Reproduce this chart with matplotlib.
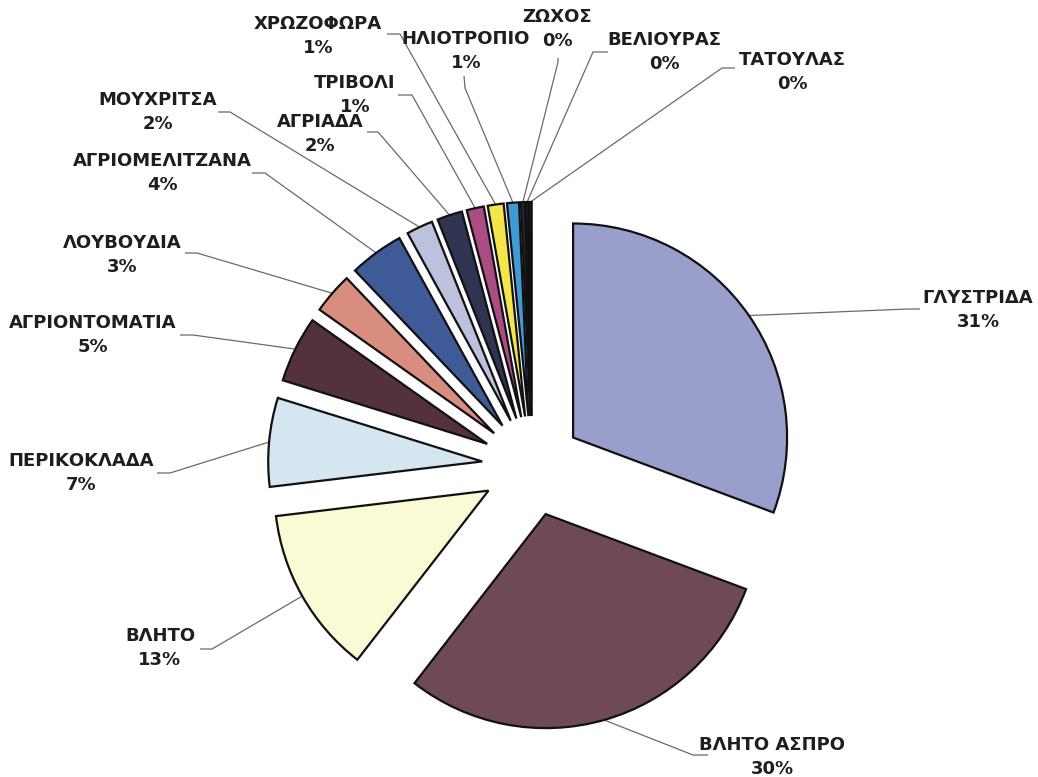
import matplotlib.pyplot as plt
import numpy as np

plt.rcParams['font.family'] = ['DejaVu Sans']

names = ['ΓΛΥΣΤΡΙΔΑ', 'ΒΛΗΤΟ ΑΣΠΡΟ', 'ΒΛΗΤΟ', 'ΠΕΡΙΚΟΚΛΑΔΑ', 'ΑΓΡΙΟΝΤΟΜΑΤΙΑ',
         'ΛΟΥΒΟΥΔΙΑ', 'ΑΓΡΙΟΜΕΛΙΤΖΑΝΑ', 'ΜΟΥΧΡΙΤΣΑ', 'ΑΓΡΙΑΔΑ', 'ΤΡΙΒΟΛΙ',
         'ΧΡΩΖΟΦΩΡΑ', 'ΗΛΙΟΤΡΟΠΙΟ', 'ΖΩΧΟΣ', 'ΒΕΛΙΟΥΡΑΣ', 'ΤΑΤΟΥΛΑΣ']
shares = [30.7, 29.8, 12.6, 6.7, 5.0, 3.1, 4.1, 2.0, 1.9, 1.3, 1.2, 0.9, 0.3, 0.2, 0.2]
colors = ['#9a9ecb', '#6e4a54', '#fafad4', '#d4e6ef', '#54313f', '#d98d7e',
          '#3f5b97', '#bcc1de', '#2f3450', '#ab4c85', '#f4e54a', '#3f9ad6',
          '#2a2a38', '#2a2a38', '#2a2a38']

# label block centres and leader anchor/elbow points, in pixels from the top-left
label_xy = [(978, 310), (772, 757), (160, 648), (81, 473), (93, 335),
            (122, 255), (162, 173), (158, 112), (320, 134), (355, 95),
            (318, 36), (466, 51), (557, 29), (664, 52), (792, 72)]
anchor_xy = [(920, 309), (708, 755), (200, 649), (157, 473), (180, 335),
             (185, 253), (252, 173), (218, 112), (367, 132), (398, 95),
             (387, 34), (464, 76), (558, 58), (608, 52), (735, 68)]
elbow_xy = [(908, 309), (693, 755), (212, 649), (170, 473), (193, 335),
            (197, 253), (265, 173), (230, 112), (378, 132), (412, 95),
            (400, 34), (465, 88), (558, 62), (593, 52), (722, 68)]

W, H = 1038, 777
fig = plt.figure(figsize=(W / 100, H / 100), dpi=100)
ax = fig.add_axes([0, 0, 1, 1])

total = sum(shares)
# explode is in data units here (pixels), same offset for every slice
wedges, _ = ax.pie(shares, colors=colors, startangle=90, counterclock=False,
                   explode=[50] * len(shares), radius=214, center=(532, H - 466),
                   wedgeprops=dict(edgecolor='#111111', linewidth=1.6))

for w, name, val, (lx, ly), (axx, ayy), (ex, ey) in zip(
        wedges, names, shares, label_xy, anchor_xy, elbow_xy):
    mid = np.deg2rad((w.theta1 + w.theta2) / 2)
    cx, cy = w.center
    px, py = cx + w.r * np.cos(mid), cy + w.r * np.sin(mid)
    ax.plot([px, ex, axx], [py, H - ey, H - ayy], color='#6a6a6a', lw=0.9,
            solid_capstyle='butt', zorder=0)
    ax.text(lx, H - ly, f'{name}\n{val / total * 100:.0f}%', ha='center',
            va='center', fontsize=13, fontweight='bold', color='#1e1e1e',
            linespacing=1.43)

ax.set_xlim(0, W)
ax.set_ylim(0, H)
ax.set_aspect('equal')
ax.axis('off')
fig.savefig('out.png', dpi=100, facecolor='white')
